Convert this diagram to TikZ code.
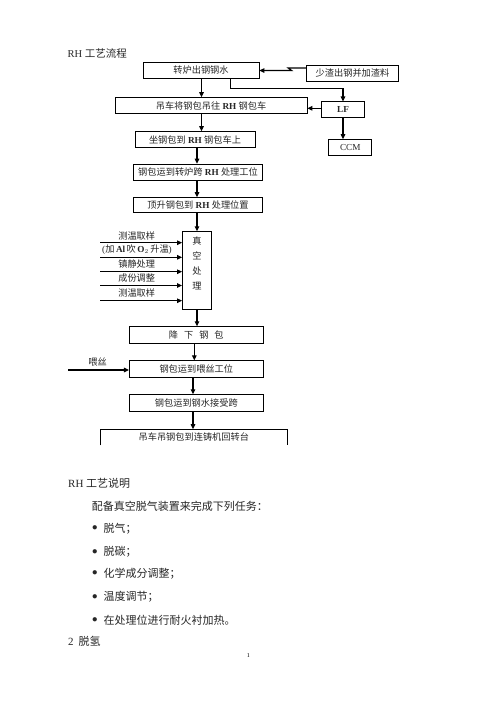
\documentclass[tikz,border=0pt]{standalone}
\usepackage{fontspec}
\setmainfont{Liberation Serif}
\newfontfamily\cjk{Noto Sans CJK SC}
\usetikzlibrary{arrows.meta,calc}
\begin{document}
\begin{tikzpicture}[x=1pt,y=-1pt,
  box/.style={draw,line width=0.7pt,inner sep=0pt,minimum height=16pt,
    font=\fontsize{9.2}{11}\selectfont,text=black!85},
  lbl/.style={inner sep=0pt,font=\fontsize{9.2}{11}\selectfont,text=black!85},
  body/.style={inner sep=0pt,anchor=west,font=\fontsize{11}{13}\selectfont,text=black!85},
  arr/.style={line width=1.1pt,-{Triangle[length=5pt,width=4.5pt]}},
  ln/.style={line width=0.7pt}]
\useasboundingbox (0,0) rectangle (496,702);
\fill[white] (0,0) rectangle (496,702);

% title
\node[body,font=\fontsize{10.5}{12}\selectfont] (title) at (67.5,53) {RH {\cjk 工艺流程}};

% boxes
\node[box,minimum width=116pt] (b1) at (201,70.5) {\cjk 转炉出钢钢水};
\node[box,minimum width=92pt] (side) at (352.5,73) {\cjk 少渣出钢并加渣料};
\node[box,minimum width=192pt] (b2) at (211,105.5) {{\cjk 吊车将钢包吊往} \textbf{RH} {\cjk 钢包车}};
\node[box,minimum width=43pt] (LF) at (343,109.8) {\textbf{LF}};
\node[box,minimum width=43pt] (CCM) at (350.3,147.5) {CCM};
\node[box,minimum width=120pt] (b3) at (195,139.5) {{\cjk 坐钢包到} \textbf{RH} {\cjk 钢包车上}};
\node[box,minimum width=129.5pt] (b4) at (198,172) {{\cjk 钢包运到转炉跨} \textbf{RH} {\cjk 处理工位}};
\node[box,minimum width=129.5pt,minimum height=15pt] (b5) at (198,205) {{\cjk 顶升钢包到} \textbf{RH} {\cjk 处理位置}};
\node[box,minimum width=29.2pt,minimum height=77.3pt] (vac) at (197,270.3) {};
\node[lbl,align=center,font=\fontsize{9.2}{15}\selectfont] (vt) at (197,263.4) {\cjk 真\\\cjk 空\\\cjk 处\\\cjk 理};
\node[box,minimum width=134pt,minimum height=16.6pt] (b6) at (196.3,335) {\cjk 降\hspace{6pt}下\hspace{6pt}钢\hspace{6pt}包};
\node[box,minimum width=134pt,minimum height=16.6pt] (b7) at (196.3,369) {\cjk 钢包运到喂丝工位};
\node[box,minimum width=134pt,minimum height=16.3pt] (b8) at (196.3,402.8) {\cjk 钢包运到钢水接受跨};
\node[lbl,minimum width=185.7pt,minimum height=15.7pt] (b9) at (193.8,437.2) {\cjk 吊车吊钢包到连铸机回转台};
\draw[ln] (b9.south west) -- (b9.north west) -- (b9.north east) -- (b9.south east);

% main line x positions
\coordinate (m1) at (201.5,0);
\coordinate (m2) at (197,0);
\coordinate (m3) at (194.3,0);
\coordinate (m4) at (193,0);

\draw[arr] (b1.south -| m1) -- (b2.north -| m1);
\draw[arr] (b2.south -| m1) -- (b3.north -| m1);
\draw[arr] (b3.south -| m2) -- (b4.north -| m2);
\draw[arr] (b4.south -| m2) -- (b5.north -| m2);
\draw[arr] (b5.south -| m2) -- (vac.north -| m2);
\draw[arr] (vac.south -| m2) -- (b6.north -| m2);
\draw[arr] (b6.south -| m3) -- (b7.north -| m3);
\draw[arr] (b7.south -| m4) -- (b8.north -| m4);
\draw[arr] (b8.south -| m4) -- (b9.north -| m4);

% side connectors
\draw[arr] ([yshift=5pt]side.west) -- ++(-18,0) coordinate (z1)
  -- ($(z1 |- b1.east)+(3.5,0)$) -- (b1.east);
\coordinate (j1) at (343,88.3);
\draw[arr] ([xshift=29.7pt]b1.south) |- (j1) -- (LF.north);
\draw[arr] (LF.south) -- (LF.south |- CCM.north);
\draw[arr] ([yshift=1.5pt]LF.west) -- ([yshift=1.5pt]LF.west -| b2.east);

% inputs to vacuum treatment
\coordinate (i1) at (100,242.7);
\coordinate (i2) at (100,257.3);
\coordinate (i3) at (100,271.7);
\coordinate (i4) at (100,285.5);
\coordinate (i5) at (100,300.7);
\node[lbl] (l1) at (136.7,236) {\cjk 测温取样};
\node[lbl] (l2) at (137,250) {({\cjk 加}\,\textbf{Al}\,{\cjk 吹}\,\textbf{O}$_2$\,{\cjk 升温})};
\node[lbl] (l3) at (136.7,264.3) {\cjk 镇静处理};
\node[lbl] (l4) at (136.7,278.3) {\cjk 成份调整};
\node[lbl] (l5) at (136.7,292.7) {\cjk 测温取样};
\foreach \i in {1,...,5} \draw[arr] (i\i) -- (i\i -| vac.west);

% feed wire
\node[lbl] (wl) at (97.5,361.7) {\cjk 喂丝};
\coordinate (w0) at (68.3,370);
\draw[arr] (w0) -- (w0 -| b7.west);

% body text
\node[body] (t1) at (68,483.3) {RH {\cjk 工艺说明}};
\node[body] (t2) at (91.7,506.7) {\cjk 配备真空脱气装置来完成下列任务：};
\foreach \y/\t [count=\k] in {528.3/脱气；,551.7/脱碳；,573.3/化学成分调整；,596.7/温度调节；,620/在处理位进行耐火衬加热。}{
  \node[body] (bu\k) at (91.8,\y) {$\bullet$};
  \node[body] (it\k) at (103.3,\y) {\cjk \t};
}
\node[body] (t3) at (68,641.7) {2\hspace{5pt}{\cjk 脱氢}};
\node[inner sep=0pt,font=\fontsize{6}{7}\selectfont] (pg) at (248.3,656) {1};
\end{tikzpicture}
\end{document}
